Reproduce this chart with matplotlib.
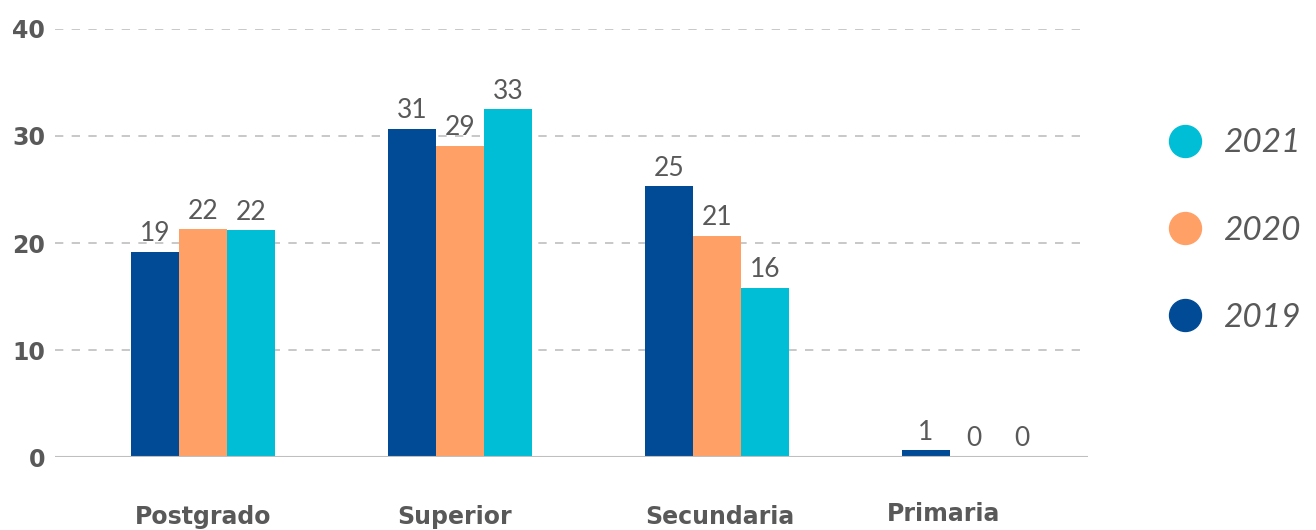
import numpy as np
import matplotlib.pyplot as plt
from matplotlib.lines import Line2D

categorias = ['Postgrado', 'Superior', 'Secundaria', 'Primaria']
anios = ['2019', '2020', '2021']
v2019 = [19.2, 30.7, 25.3, 0.65]
v2020 = [21.3, 29.1, 20.7, 0.0]
v2021 = [21.2, 32.5, 15.8, 0.0]
et2019 = ['19', '31', '25', '1']
et2020 = ['22', '29', '21', '0']
et2021 = ['22', '33', '16', '0']

colores = ['#014B96', '#FFA066', '#00BED6']
gris = '#595959'

fig = plt.figure(figsize=(13.16, 5.3), dpi=100)
ax = fig.add_axes([0.0418, 0.1377, 0.785, 0.8076])

x = np.arange(len(categorias))
ancho = 0.187
series = [v2019, v2020, v2021]
etiquetas = [et2019, et2020, et2021]
for i, (vals, ets) in enumerate(zip(series, etiquetas)):
    pos = x + (i - 1) * ancho
    barras = ax.bar(pos, vals, ancho, color=colores[i], zorder=3)
    for b, t in zip(barras, ets):
        ax.annotate(t, (b.get_x() + b.get_width() / 2, b.get_height()),
                    xytext=(0, 4), textcoords='offset points',
                    ha='center', va='bottom', fontsize=19,
                    color=gris, family='Lato')

ax.set_xlim(-0.576, 3.444)
ax.set_ylim(0, 40)
ax.set_yticks([0, 10, 20, 30, 40])
ax.yaxis.grid(True, color='#BFBFBF', linestyle=(0, (5, 5)), linewidth=1.2, zorder=0)
ax.axhline(0, color='#BFBFBF', linewidth=1.5, zorder=4)
for s in ax.spines.values():
    s.set_visible(False)
ax.tick_params(axis='y', length=0, pad=7, labelsize=17, labelcolor=gris)
for lab in ax.get_yticklabels():
    lab.set_fontweight('bold')
ax.set_xticks([])

# etiquetas de categoria (Primaria un poco corrida a la izquierda como en el original)
desplaz = [0, -0.02, 0.01, -0.12]
for xi, c, d in zip(x, categorias, desplaz):
    ax.text(xi + d, -0.14 if c != 'Primaria' else -0.134, c, transform=ax.get_xaxis_transform(),
            ha='center', va='center', fontsize=17, weight='bold', color=gris)

handles = [Line2D([], [], marker='o', linestyle='', markersize=23,
                  markerfacecolor=colores[i], markeredgecolor=colores[i]) for i in [2, 1, 0]]
leg = fig.legend(handles, [anios[i] for i in [2, 1, 0]], loc='center left',
                 bbox_to_anchor=(0.852, 0.565), frameon=False, labelspacing=1.72,
                 handletextpad=0.15, prop={'size': 24, 'style': 'italic', 'family': 'Lato'})
for t in leg.get_texts():
    t.set_color(gris)

fig.savefig('out.png', dpi=100)
